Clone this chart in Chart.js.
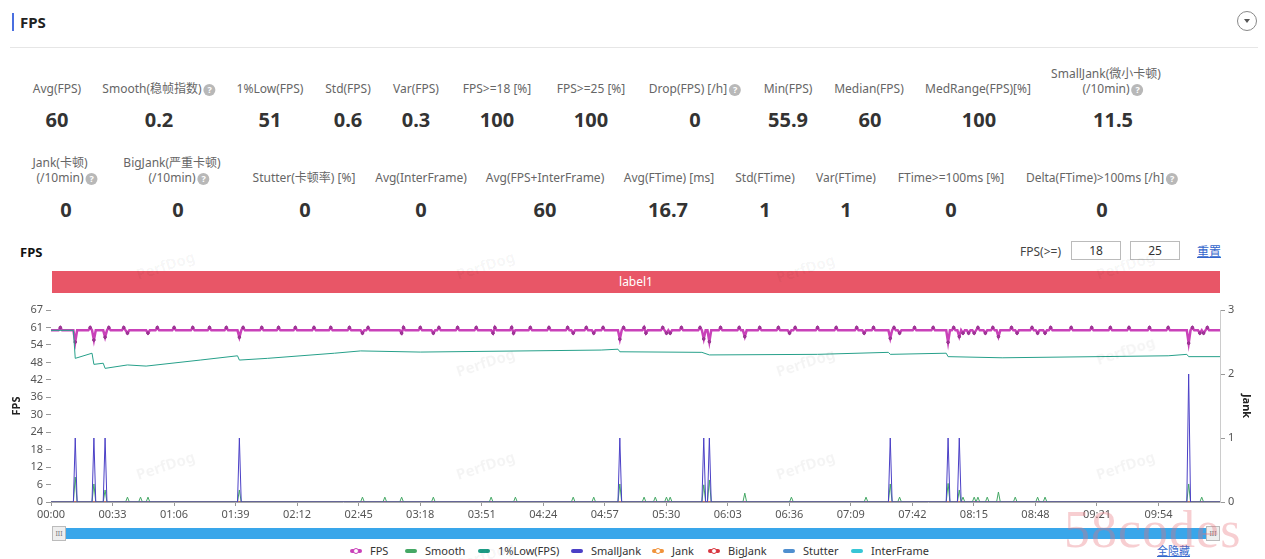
<!DOCTYPE html>
<html>
<head>
<meta charset="utf-8">
<script src="https://cdn.jsdelivr.net/npm/chart.js@4.4.0/dist/chart.umd.min.js"></script>
<style>
  body { margin: 0; width: 1265px; height: 559px; overflow: hidden; background: #fff; position: relative;
         font-family: "Noto Sans", "Noto Sans CJK SC", sans-serif; color: #333; }
  .abs { position: absolute; white-space: nowrap; }
  .lbl { position: absolute; transform: translateX(-50%); text-align: center; font-size: 12px; color: #666;
         line-height: 15px; white-space: nowrap; font-family: "Noto Sans", "Noto Sans CJK SC", sans-serif; }
  .val { position: absolute; transform: translateX(-50%); font-size: 20px; font-weight: bold; color: #333;
         line-height: 28px; white-space: nowrap; }
  .q { display: inline-block; width: 12px; height: 12px; border-radius: 50%; background: #b8b8b8; color: #fff;
       font-size: 9px; line-height: 12px; text-align: center; vertical-align: 0px; margin-left: 2px; margin-right: -14px;
       font-weight: bold; }
  .wm { position: absolute; font-size: 15px; font-weight: bold; color: rgba(0,0,0,0.045); transform: rotate(-18deg);
        white-space: nowrap; pointer-events: none; }
  #chart { position: absolute; left: 0; top: 296px; }
  .inp { position: absolute; top: 241px; width: 48px; height: 17px; border: 1px solid #bbb; font-size: 12px;
         text-align: center; line-height: 17px; color: #333; }
  .leg { position: absolute; top: 544px; font-size: 11px; color: #333; line-height: 14px; white-space: nowrap; }
  .ico { display: inline-block; position: relative; width: 12px; height: 4px; border-radius: 2px; vertical-align: 2px; margin-right: 8px; }
  .ico i { position: absolute; left: 3px; top: -1px; width: 4px; height: 4px; border-radius: 50%; background: #fff; border: 1px solid; box-sizing: content-box; margin-top: -0.5px; }
</style>
</head>
<body>
<div class="abs" style="left:12px;top:13px;width:2px;height:18px;background:#4a6fe0"></div>
<div class="abs" style="left:20px;top:12px;font-size:15px;font-weight:bold;color:#222">FPS</div>
<div class="abs" style="left:1237px;top:11px;width:20px;height:20px;border:1px solid #888;border-radius:50%;box-sizing:border-box"></div>
<div class="abs" style="left:1244px;top:19px;width:0;height:0;border-left:3px solid transparent;border-right:3px solid transparent;border-top:4px solid #555"></div>
<div class="abs" style="left:10px;top:47px;width:1248px;height:1px;background:#e6e6e6"></div>

<div id="stats"></div>

<div class="abs" style="left:20px;top:243px;font-size:13px;font-weight:bold;color:#111">FPS</div>
<div class="abs" style="left:1020px;top:243px;font-size:12px;color:#444">FPS(&gt;=)</div>
<div class="inp" style="left:1071px">18</div>
<div class="inp" style="left:1130px">25</div>
<div class="abs" style="left:1197px;top:242px;font-size:12px;color:#3366cc;text-decoration:underline">重置</div>
<div class="abs" style="left:52px;top:271px;width:1168px;height:22px;background:#e85667;color:#fff;font-size:12px;line-height:22px;text-align:center">label1</div>

<canvas id="chart" width="1265" height="228"></canvas>

<div class="abs" style="left:52px;top:528px;width:1168px;height:11px;background:#39a6ea"></div>
<div class="abs" style="left:52px;top:526px;width:14px;height:15px;background:#eee;border:1px solid #bbb;box-sizing:border-box;font-size:7px;line-height:13px;text-align:center;color:#777">III</div>
<div class="abs" style="left:1206px;top:526px;width:14px;height:15px;background:#eee;border:1px solid #bbb;box-sizing:border-box;font-size:7px;line-height:13px;text-align:center;color:#777">III</div>
<div id="legend"></div>
<div class="abs" style="left:1157px;top:544px;font-size:11px;color:#3366cc;line-height:14px;text-decoration:underline">全隐藏</div>
<div class="abs" style="left:1064px;top:500px;font-size:52px;font-family:'Liberation Serif','DejaVu Serif',serif;color:rgba(232,110,120,0.34);letter-spacing:1px">58codes</div>
<div id="marks"></div>

<script>
// ---- chart data (seconds since start) ----
const duration = 627;
const fpsBase = 60;
const fpsPeakTimes = [5, 21, 31, 39, 57, 66, 76, 85, 94, 103, 113, 122, 131, 141, 150, 160, 170, 189, 198, 208,
  218, 228, 238, 247, 257, 267, 277, 287, 296, 307, 318, 328, 338, 348, 359, 369, 380, 390, 399, 411, 421, 432,
  441, 452, 463, 473, 484, 497, 505, 515, 526, 536, 547, 558, 568, 578, 589, 599, 612, 620];
const fpsDipTimes = [13, 23, 29, 41, 52, 101, 167, 188, 205, 237, 248, 280, 291, 305, 319, 330, 332, 350, 353,
  372, 396, 436, 450, 455, 481, 487, 489, 492, 495, 501, 508, 518, 529, 533, 610, 616, 618];
const fpsDipValues = [55.9, 56.6, 57.6, 59, 59, 57.6, 59, 59, 59, 59, 59, 59, 59, 56.9, 59, 59, 59, 57, 56,
  57.8, 59, 59, 57.2, 59, 55.8, 57.8, 59, 59, 59, 59, 57.8, 59, 59, 59, 55.5, 59, 59];

const smoothTimes = [13, 23, 29, 41, 48, 52, 101, 167, 179, 188, 205, 236, 249, 280, 291, 305, 318, 324, 330, 332,
  350, 353, 372, 397, 437, 450, 455, 481, 487, 489, 495, 497, 502, 508, 517, 529, 533, 610, 617];
const smoothValues = [8.7, 6.3, 4.2, 1.7, 1.7, 1.7, 4.2, 1.7, 1.7, 1.7, 1.7, 1.7, 1.7, 1.7, 1.7, 6.3, 1.7, 1.7, 1.7, 1.7,
  6, 7.7, 3.1, 1.7, 1.7, 6.3, 1.7, 6.5, 4.2, 1.7, 1.7, 1.7, 1.7, 3.5, 1.7, 1.7, 1.7, 6.3, 1.7];

const lowTimes = [0, 12, 13, 22, 23, 28, 29, 41, 51, 80, 100, 101, 116, 152, 166, 198, 295, 304, 305, 349, 353,
  411, 449, 450, 480, 481, 510, 599, 609, 610, 627];
const lowValues = [60, 60, 50.2, 52, 48.1, 48.5, 46.7, 47.9, 47.5, 49.6, 51.1, 49.6, 50.2, 52, 52.8, 52.4, 53.1, 53.4,
  52.5, 52.3, 51.4, 51.6, 52.3, 51.6, 52, 50.8, 50.4, 51.1, 51.6, 50.8, 50.8];

const smallJankTimes = [13, 23, 29, 101, 305, 350, 353, 450, 481, 487, 610];
const smallJankValues = [1, 1, 1, 1, 1, 1, 1, 1, 1, 1, 2];

const zeroTimes = [0, 627];
const zeroValues = [0, 0];

const xAxisMax = 626.8;
const xTickStep = 33;
const xLastLabel = 594;
const fpsAxisMax = 67.1;
const fpsAxisStep = 6.1;
const jankAxisMax = 3;

// ---- stat blocks ----
const statRow1 = [
  ['Avg(FPS)', '60', 57, 57, false],
  ['Smooth(稳帧指数)', '0.2', 152, 159, true],
  ['1%Low(FPS)', '51', 270, 270, false],
  ['Std(FPS)', '0.6', 348, 348, false],
  ['Var(FPS)', '0.3', 416, 416, false],
  ['FPS>=18 [%]', '100', 497, 497, false],
  ['FPS>=25 [%]', '100', 591, 591, false],
  ['Drop(FPS) [/h]', '0', 688, 695, true],
  ['Min(FPS)', '55.9', 788, 788, false],
  ['Median(FPS)', '60', 869, 870, false],
  ['MedRange(FPS)[%]', '100', 978, 979, false],
  ['SmallJank(微小卡顿)|(/10min)', '11.5', 1106, 1113, true]
];
const statRow2 = [
  ['Jank(卡顿)|(/10min)', '0', 60, 66, true],
  ['BigJank(严重卡顿)|(/10min)', '0', 172, 178, true],
  ['Stutter(卡顿率) [%]', '0', 304, 305, false],
  ['Avg(InterFrame)', '0', 421, 421, false],
  ['Avg(FPS+InterFrame)', '60', 545, 545, false],
  ['Avg(FTime) [ms]', '16.7', 669, 668, false],
  ['Std(FTime)', '1', 765, 765, false],
  ['Var(FTime)', '1', 846, 846, false],
  ['FTime>=100ms [%]', '0', 951, 951, false],
  ['Delta(FTime)>100ms [/h]', '0', 1095, 1102, true]
];

const stats = document.getElementById('stats');
function addRow(row, labelBottom, valueCenter) {
  row.forEach(([label, value, lx, vx, help]) => {
    const lines = label.split('|');
    const l = document.createElement('div');
    l.className = 'lbl';
    l.style.left = lx + 'px';
    l.style.top = (labelBottom - 15 * lines.length) + 'px';
    l.innerHTML = lines.map((t, i) => t + (help && i === lines.length - 1 ? '<span class="q">?</span>' : '')).join('<br>');
    stats.appendChild(l);
    const v = document.createElement('div');
    v.className = 'val';
    v.style.left = vx + 'px';
    v.style.top = (valueCenter - 14) + 'px';
    v.textContent = value;
    stats.appendChild(v);
  });
}
addRow(statRow1, 96, 120);
addRow(statRow2, 185, 210);

// ---- legend ----
const legendNames = ['FPS', 'Smooth', '1%Low(FPS)', 'SmallJank', 'Jank', 'BigJank', 'Stutter', 'InterFrame'];
const legendColors = ['#c941b9', '#45a865', '#1c9c86', '#4b40c6', '#f0923a', '#d8363f', '#4f8fcf', '#37c6d6'];
const legendMarker = [true, false, false, false, true, true, false, false];
const legendLeft = [350, 405, 478, 571, 652, 708, 783, 851];
const legend = document.getElementById('legend');
legendNames.forEach((n, i) => {
  const d = document.createElement('div');
  d.className = 'leg';
  d.style.left = legendLeft[i] + 'px';
  d.innerHTML = '<span class="ico" style="background:' + legendColors[i] + '">' +
    (legendMarker[i] ? '<i style="border-color:' + legendColors[i] + '"></i>' : '') + '</span>' + n;
  legend.appendChild(d);
});

// faint watermarks
const marks = document.getElementById('marks');
[[135, 255], [455, 255], [775, 258], [1095, 255], [455, 352], [775, 352], [1095, 340],
 [135, 455], [455, 455], [775, 455], [1095, 455], [455, 545]].forEach(([x, y]) => {
  const m = document.createElement('div');
  m.className = 'wm';
  m.style.left = x + 'px';
  m.style.top = y + 'px';
  m.textContent = 'PerfDog';
  marks.appendChild(m);
});

// ---- build point lists ----
function spikeSeries(times, values, base) {
  const ev = new Map();
  times.forEach((t, i) => ev.set(t, values[i]));
  const all = new Map([[0, base], [duration, base]]);
  times.forEach(t => {
    if (!ev.has(t - 1)) all.set(t - 1, base);
    if (!ev.has(t + 1)) all.set(t + 1, base);
  });
  ev.forEach((v, t) => all.set(t, v));
  const keys = [...all.keys()].filter(t => t >= 0 && t <= duration).sort((a, b) => a - b);
  return { data: keys.map(t => ({ x: t, y: all.get(t) })), radius: keys.map(t => (ev.has(t) ? 1.3 : 0)) };
}
const pairs = (ts, vs) => ts.map((t, i) => ({ x: t, y: vs[i] }));

const fpsTimes = fpsPeakTimes.concat(fpsDipTimes);
const fpsValues = fpsPeakTimes.map(() => 61).concat(fpsDipValues);
const fps = spikeSeries(fpsTimes, fpsValues, fpsBase);
const smooth = spikeSeries(smoothTimes, smoothValues, 0);
const smallJank = spikeSeries(smallJankTimes, smallJankValues, 0);

function fmt(s) {
  const m = Math.floor(s / 60), r = Math.round(s % 60);
  return String(m).padStart(2, '0') + ':' + String(r).padStart(2, '0');
}

Chart.defaults.font.family = '"Noto Sans", sans-serif';
Chart.defaults.font.size = 11;

const line = (label, data, color, axis, extra = {}) => Object.assign({
  label, data, borderColor: color, backgroundColor: color, yAxisID: axis,
  borderWidth: 1, pointRadius: 0, tension: 0, fill: false
}, extra);

new Chart(document.getElementById('chart'), {
  type: 'line',
  data: {
    datasets: [
      line('1%Low(FPS)', pairs(lowTimes, lowValues), '#26a08a', 'y', { order: -1 }),
      line('FPS', fps.data, '#c941b9', 'y', { borderWidth: 2.5, pointRadius: fps.radius, pointBorderWidth: 1,
        pointBackgroundColor: '#a8379f', pointBorderColor: '#8f2f88' }),
      line('SmallJank', smallJank.data, '#4b40c6', 'y1'),
      line('Smooth', smooth.data, '#45a865', 'y'),
      line('BigJank', pairs(zeroTimes, zeroValues), '#c0605a', 'y1', { borderWidth: 1.5 }),
      line('Jank', pairs(zeroTimes, zeroValues), '#f0923a', 'y1'),
      line('Stutter', pairs(zeroTimes, zeroValues), '#4f8fcf', 'y'),
      line('InterFrame', pairs(zeroTimes, zeroValues), '#37c6d6', 'y', { order: 5 })
    ]
  },
  options: {
    responsive: false,
    animation: false,
    events: [],
    layout: { padding: { top: 14, left: 0, right: 0, bottom: 0 } },
    plugins: { legend: { display: false }, tooltip: { enabled: false } },
    scales: {
      x: {
        type: 'linear', min: 0, max: xAxisMax,
        afterBuildTicks: s => { s.ticks = s.ticks.filter(t => t.value <= xLastLabel); },
        ticks: { stepSize: xTickStep, includeBounds: false, autoSkip: false, maxRotation: 0, color: '#555',
          padding: 2, callback: v => fmt(v) },
        grid: { drawOnChartArea: false, drawTicks: true, tickLength: 4, color: '#999' },
        border: { color: '#aaa' },
        afterFit: s => { s.height = 22; }
      },
      y: {
        position: 'left', min: 0, max: fpsAxisMax,
        ticks: { stepSize: fpsAxisStep, color: '#555', padding: 3, callback: v => Math.floor(v + 1e-6) },
        grid: { drawOnChartArea: false, drawTicks: true, tickLength: 5, color: '#999' },
        border: { display: false },
        title: { display: true, text: 'FPS', color: '#222', font: { size: 11, weight: 'bold' }, padding: { top: 10, bottom: 0 } },
        afterFit: s => { s.width = 51; }
      },
      y1: {
        position: 'right', min: 0, max: jankAxisMax,
        ticks: { stepSize: 1, color: '#555', padding: 3 },
        grid: { drawOnChartArea: false, drawTicks: true, tickLength: 5, color: '#999' },
        border: { color: '#ccc' },
        title: { display: true, text: 'Jank', color: '#222', font: { size: 11, weight: 'bold' }, padding: { top: 12, bottom: 0 } },
        afterFit: s => { s.width = 45; }
      }
    }
  }
});
</script>
</body>
</html>
